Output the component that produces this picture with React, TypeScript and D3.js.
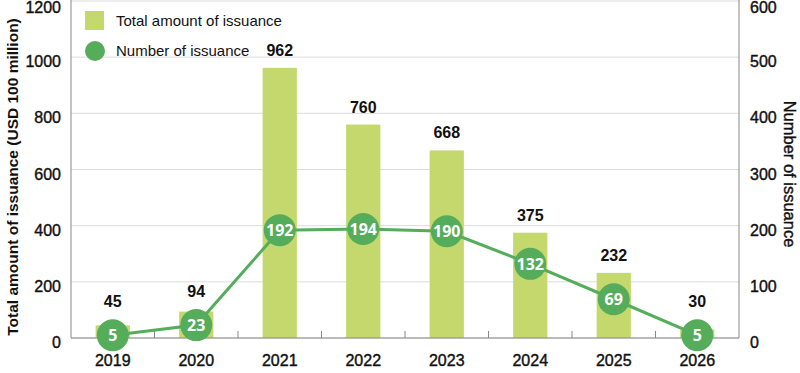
import * as d3 from "d3";

const years = ["2019", "2020", "2021", "2022", "2023", "2024", "2025", "2026"];
const amounts = [45, 94, 962, 760, 668, 375, 232, 30];
const counts = [5, 23, 192, 194, 190, 132, 69, 5];
const leftTicks = [0, 200, 400, 600, 800, 1000, 1200];
const rightTicks = [0, 100, 200, 300, 400, 500, 600];

const width = 800;
const height = 373;
const margin = { top: 1, right: 61, bottom: 35, left: 71 };

const barColor = "#c5d86d";
const dotColor = "#55ad5c";
const font = "'Liberation Sans', Arial, sans-serif";

export default function App() {
  const x = d3.scaleBand<string>()
    .domain(years)
    .range([margin.left, width - margin.right])
    .paddingInner(0.59)
    .paddingOuter(0.295);

  const step = x.step();

  const yL = d3.scaleLinear().domain([0, 1200]).range([height - margin.bottom, margin.top]);
  const yR = d3.scaleLinear().domain([0, 600]).range([height - margin.bottom, margin.top]);

  const cx = (y: string) => (x(y) as number) + x.bandwidth() / 2;
  const line = d3.line<number>()
    .x((_, i) => cx(years[i]))
    .y(d => yR(d));

  const bottom = height - margin.bottom;
  // keep the top tick label inside the picture
  const tickY = (v: number) => Math.max(v + 10, 13);

  return (
    <svg width={width} height={height} style={{ position: "absolute", left: 0, top: 0 }} fontFamily={font}>
      {/* grid */}
      {leftTicks.map(t => (
        <line key={t} x1={margin.left} x2={width - margin.right} y1={yL(t)} y2={yL(t)} stroke="#dcdcdc" strokeWidth={1} />
      ))}

      {/* bars */}
      {years.map((y, i) => (
        <rect key={y} x={x(y)} y={yL(amounts[i])} width={x.bandwidth()} height={bottom - yL(amounts[i])} fill={barColor} />
      ))}

      {/* axes */}
      <line x1={margin.left} x2={margin.left} y1={margin.top - 1} y2={bottom} stroke="#888" />
      <line x1={width - margin.right} x2={width - margin.right} y1={margin.top - 1} y2={bottom} stroke="#888" />
      <line x1={margin.left} x2={width - margin.right} y1={bottom} y2={bottom} stroke="#888" />
      {years.slice(1).map(y => (
        <line key={y} x1={(x(y) as number) - (step - x.bandwidth()) / 2} x2={(x(y) as number) - (step - x.bandwidth()) / 2}
          y1={bottom} y2={bottom - 7} stroke="#888" />
      ))}

      {/* left ticks */}
      {leftTicks.map(t => (
        <text key={t} x={61} y={tickY(yL(t))} textAnchor="end" fontSize={16} fill="#111" stroke="#111" strokeWidth={0.4}>{t}</text>
      ))}
      {/* right ticks */}
      {rightTicks.map(t => (
        <text key={t} x={750} y={tickY(yR(t))} textAnchor="start" fontSize={16} fill="#111" stroke="#111" strokeWidth={0.4}>{t}</text>
      ))}
      {/* x labels */}
      {years.map(y => (
        <text key={y} x={cx(y)} y={366} textAnchor="middle" fontSize={16} fill="#111" stroke="#111" strokeWidth={0.4}>{y}</text>
      ))}

      {/* axis titles */}
      <text transform={`translate(18,177) rotate(-90)`} textAnchor="middle" fontSize={15.5} fontWeight={700} fill="#111">
        Total amount of issuance (USD 100 million)
      </text>
      <text transform={`translate(784,174) rotate(90)`} textAnchor="middle" fontSize={16.5} fill="#111" stroke="#111" strokeWidth={0.4}>
        Number of issuance
      </text>

      {/* line */}
      <path d={line(counts) ?? ""} fill="none" stroke={dotColor} strokeWidth={3} />
      {years.map((y, i) => (
        <g key={y}>
          <circle cx={cx(y)} cy={yR(counts[i])} r={16} fill={dotColor} />
          <text x={cx(y)} y={yR(counts[i]) + 6} textAnchor="middle" fontSize={16} fontWeight={700} fill="#fff" fontFamily="'Noto Sans', sans-serif">
            {counts[i]}
          </text>
        </g>
      ))}

      {/* bar value labels */}
      {years.map((y, i) => (
        <text key={y} x={cx(y)} y={Math.min(yL(amounts[i]), yR(counts[i]) - 16) - 12} textAnchor="middle" fontSize={16} fontWeight={700} fill="#111">
          {amounts[i]}
        </text>
      ))}

      {/* legend */}
      <rect x={85} y={11} width={19} height={19} fill={barColor} />
      <text x={116} y={26} fontSize={15} fill="#111">Total amount of issuance</text>
      <circle cx={95} cy={51} r={10} fill={dotColor} />
      <text x={116} y={56} fontSize={15} fill="#111">Number of issuance</text>
    </svg>
  );
}
